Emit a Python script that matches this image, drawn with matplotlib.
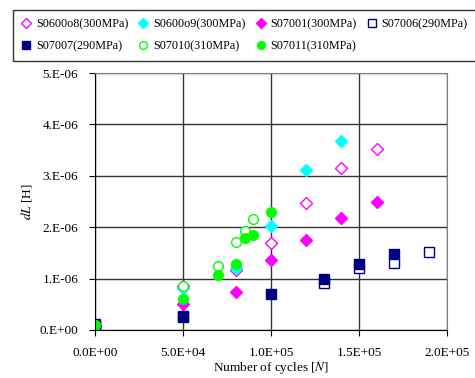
import matplotlib
matplotlib.use('Agg')
import matplotlib.pyplot as plt
from matplotlib.ticker import FixedLocator, FuncFormatter

plt.rcParams['font.family'] = ['Liberation Serif', 'DejaVu Serif']
plt.rcParams['mathtext.fontset'] = 'stix'

# data
s0608_x = [0, 5e4, 8e4, 1e5, 1.2e5, 1.4e5, 1.6e5]
s0608_y = [0.10e-6, 0.85e-6, 1.17e-6, 1.69e-6, 2.47e-6, 3.15e-6, 3.52e-6]
s0609_x = [0, 5e4, 8e4, 1e5, 1.2e5, 1.4e5]
s0609_y = [0.05e-6, 0.82e-6, 1.20e-6, 2.02e-6, 3.11e-6, 3.68e-6]
s07001_x = [0, 5e4, 8e4, 1e5, 1.2e5, 1.4e5, 1.6e5]
s07001_y = [0.08e-6, 0.50e-6, 0.74e-6, 1.37e-6, 1.75e-6, 2.18e-6, 2.49e-6]
s07006_x = [0, 5e4, 1.3e5, 1.5e5, 1.7e5, 1.9e5]
s07006_y = [0.10e-6, 0.25e-6, 0.92e-6, 1.21e-6, 1.31e-6, 1.51e-6]
s07007_x = [0, 5e4, 1e5, 1.3e5, 1.5e5, 1.7e5]
s07007_y = [0.12e-6, 0.27e-6, 0.71e-6, 1.00e-6, 1.28e-6, 1.47e-6]
s07010_x = [0, 5e4, 7e4, 8e4, 8.5e4, 9e4]
s07010_y = [0.10e-6, 0.86e-6, 1.25e-6, 1.71e-6, 1.93e-6, 2.16e-6]
s07011_x = [0, 5e4, 7e4, 8e4, 8.5e4, 9e4, 1e5]
s07011_y = [0.10e-6, 0.60e-6, 1.07e-6, 1.28e-6, 1.79e-6, 1.85e-6, 2.30e-6]

labels = ['S0600o8(300MPa)', 'S0600o9(300MPa)', 'S07001(300MPa)', 'S07006(290MPa)',
          'S07007(290MPa)', 'S07010(310MPa)', 'S07011(310MPa)']
x_ticks = [0, 5e4, 1e5, 1.5e5, 2e5]
y_ticks = [0, 1e-6, 2e-6, 3e-6, 4e-6, 5e-6]

fig = plt.figure(figsize=(4.75, 3.78), dpi=100)
ax = fig.add_axes([95/475, 48/378, 352/475, 257/378])

ax.plot(s0608_x, s0608_y, 'D', ms=6.5, mfc='white', mec='#FF00FF', mew=1, label=labels[0])
ax.plot(s0609_x, s0609_y, 'D', ms=6.5, color='#00FFFF', label=labels[1])
ax.plot(s07001_x, s07001_y, 'D', ms=6.5, color='#FF00FF', label=labels[2])
ax.plot(s07006_x, s07006_y, 's', ms=6.5, mfc='white', mec='#000080', mew=1, label=labels[3])
ax.plot(s07007_x, s07007_y, 's', ms=6.5, color='#000080', label=labels[4])
ax.plot(s07010_x, s07010_y, 'o', ms=7, mfc='white', mec='#00FF00', mew=1, label=labels[5])
ax.plot(s07011_x, s07011_y, 'o', ms=7, color='#00FF00', label=labels[6])

ax.set_xlim(0, 2e5)
ax.set_ylim(0, 5e-6)
ax.xaxis.set_major_locator(FixedLocator(x_ticks))
ax.yaxis.set_major_locator(FixedLocator(y_ticks))
ax.xaxis.set_major_formatter(FuncFormatter(lambda v, p: f'{v:.1E}'))
ax.yaxis.set_major_formatter(FuncFormatter(lambda v, p: f'{v:.0E}'.replace('E', '.E')))
ax.grid(True, color='#333333', linewidth=1)
ax.set_axisbelow(True)
for s in ['left', 'bottom']:
    ax.spines[s].set_color('black')
for s in ['top', 'right']:
    ax.spines[s].set_color('#808080')
ax.tick_params(direction='out', length=4, labelsize=9.5, pad=8)

ax.set_xlabel('Number of cycles [$\\it{N}$]', fontsize=9.5, labelpad=1)
ax.set_ylabel('$\\it{dL}$ [H]', fontsize=9.5, labelpad=4)

# legend is filled row by row in the reference
handles, labs = ax.get_legend_handles_labels()
order = [0, 4, 1, 5, 2, 6, 3]
leg = fig.legend([handles[i] for i in order], [labs[i] for i in order],
                 loc='upper left', bbox_to_anchor=(13/475, 1 - 10/378), ncol=4,
                 fontsize=8.7, frameon=True, fancybox=False, edgecolor='black',
                 handlelength=0.8, handletextpad=0.4, columnspacing=0.85,
                 borderpad=0.7, labelspacing=0.8, markerscale=0.8,
                 borderaxespad=0)
leg.get_frame().set_linewidth(1)

plt.savefig('out.png', dpi=100)
